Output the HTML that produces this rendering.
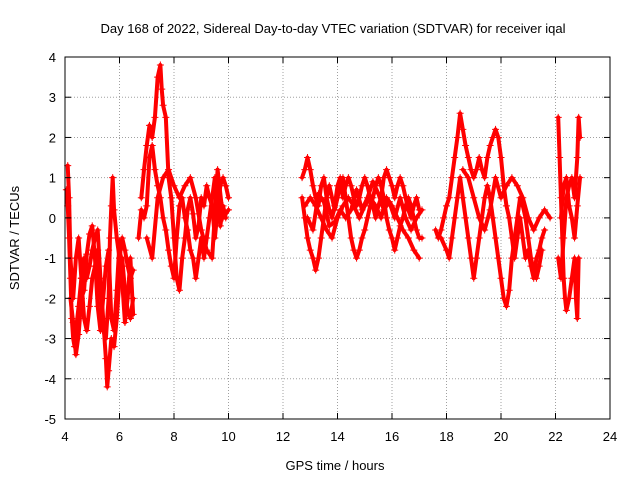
<!DOCTYPE html>
<html><head><meta charset="utf-8"><style>
body{margin:0;background:#fff;}
svg text{font-family:"Liberation Sans",sans-serif;font-size:13px;fill:#000;}
</style></head><body>
<svg id="chart" width="640" height="480">
<text x="333" y="33" text-anchor="middle">Day 168 of 2022, Sidereal Day-to-day VTEC variation (SDTVAR) for receiver iqal</text>
<text x="335" y="470" text-anchor="middle">GPS time / hours</text>
<text x="19" y="238" text-anchor="middle" transform="rotate(-90 19 238)">SDTVAR / TECUs</text>
<g id="grid"></g><g id="marks"></g><g id="axes"></g>
</svg>
<script>
const xTicks=[4,6,8,10,12,14,16,18,20,22,24];
const yTicks=[-5,-4,-3,-2,-1,0,1,2,3,4];
const trackA=[[4.05,0.7],[4.1,0.3],[4.15,-0.5],[4.2,-1.5],[4.25,-2.5],[4.3,-3],[4.35,-3.2],[4.4,-2.8],[4.5,-2.2],[4.6,-1.5],[4.7,-1],[4.8,-1.5],[4.9,-1.2],[5.0,-0.8],[5.1,-0.5],[5.2,-0.3],[5.3,-1.5],[5.4,-2.5],[5.5,-3.5],[5.55,-4.2],[5.6,-3.8],[5.7,-3],[5.8,-3.2],[5.9,-2.5],[6.0,-1.5],[6.1,-1],[6.2,-1.8],[6.3,-2.3],[6.4,-2.5],[6.5,-2.0]];
const trackB=[[4.1,1.3],[4.15,0.5],[4.2,-1],[4.3,-2],[4.4,-1],[4.5,-0.5],[4.6,-1.5],[4.7,-2.5],[4.8,-2.8],[4.9,-2.2],[5.0,-1.5],[5.1,-1.2],[5.2,-0.8],[5.3,-1.8],[5.4,-2.8],[5.5,-3.0],[5.6,-2.0],[5.65,-0.5],[5.7,0.3],[5.75,1.0],[5.8,0.2],[5.9,-0.5],[6.0,-1.0],[6.1,-0.5],[6.2,-0.8],[6.3,-1.2],[6.4,-1.5],[6.5,-1.3]];
const trackA2=[[4.2,-2.0],[4.3,-2.6],[4.4,-3.4],[4.5,-2.9],[4.6,-2.0],[4.7,-1.8],[4.8,-0.9],[4.9,-0.4],[5.0,-0.2],[5.1,-1.0],[5.2,-2.2],[5.3,-2.8],[5.4,-2.0],[5.5,-1.2],[5.6,-0.8],[5.7,-2.5],[5.8,-2.8],[5.9,-1.8],[6.0,-0.6],[6.1,-1.6],[6.2,-2.6],[6.3,-2.0],[6.4,-1.0],[6.5,-2.4]];
const trackC=[[6.8,0.5],[6.9,1.2],[7.0,1.8],[7.1,2.3],[7.2,2.0],[7.3,2.5],[7.4,3.5],[7.5,3.8],[7.55,3.2],[7.6,2.8],[7.7,2.5],[7.8,1.0],[7.9,0.5],[8.0,-0.5],[8.1,-1.5],[8.2,-1.8],[8.3,-1.0],[8.4,-0.5],[8.5,0.2],[8.6,0.5],[8.7,0.1],[8.8,-0.5],[8.9,-0.2],[9.0,0.5],[9.1,0.3],[9.2,0.8],[9.3,0.5],[9.4,0.3],[9.5,-0.5],[9.6,0.2],[9.7,0.8],[9.8,1.0],[9.9,0.8],[10.0,0.5]];
const trackD=[[6.7,-0.5],[6.8,0.2],[6.9,0.0],[7.0,0.3],[7.1,1.5],[7.2,1.8],[7.3,1.2],[7.4,0.8],[7.5,0.5],[7.6,0.0],[7.7,-0.3],[7.8,-0.8],[7.9,-1.2],[8.0,-1.5],[8.1,-0.5],[8.2,0.3],[8.3,0.5],[8.4,0.0],[8.5,-0.3],[8.6,-0.8],[8.7,-1.0],[8.8,-1.5],[8.9,-1.0],[9.0,-0.5],[9.1,-1.0],[9.2,-0.5],[9.3,0.0],[9.4,0.5],[9.5,1.0],[9.6,0.5],[9.7,-0.2],[9.8,0.3],[9.9,0.0]];
const trackE=[[7.0,-0.5],[7.2,-1.0],[7.4,0.5],[7.6,1.0],[7.8,1.2],[8.0,0.8],[8.2,0.5],[8.4,0.8],[8.6,1.0],[8.8,0.5],[9.0,-0.3],[9.2,-0.8],[9.4,-1.0],[9.6,1.2],[9.8,0.0],[10.0,0.2]];
const trackF=[[12.7,0.5],[12.8,0.0],[12.9,-0.5],[13.0,-0.8],[13.1,-1.0],[13.2,-1.3],[13.3,-1.0],[13.4,-0.5],[13.5,0.0],[13.6,0.5],[13.7,0.8],[13.8,0.5],[13.9,0.2],[14.0,0.5],[14.1,0.8],[14.2,1.0],[14.3,0.5],[14.4,0.0],[14.5,-0.5],[14.6,-0.8],[14.7,-1.0],[14.8,-0.8],[14.9,-0.5],[15.0,-0.3],[15.1,0.0],[15.2,0.3],[15.3,0.5],[15.4,0.8],[15.5,1.0],[15.6,0.8],[15.7,0.5],[15.8,0.0],[15.9,-0.3],[16.0,-0.5],[16.1,-0.8],[16.2,-0.5],[16.3,-0.2],[16.4,0.0],[16.5,0.3],[16.6,0.5],[16.7,0.3],[16.8,0.0],[16.9,-0.3],[17.0,-0.5],[17.1,-0.5]];
const trackG=[[12.7,1.0],[12.8,1.2],[12.9,1.5],[13.0,1.2],[13.1,0.8],[13.2,0.5],[13.3,0.3],[13.4,0.8],[13.5,1.0],[13.6,0.5],[13.7,0.2],[13.8,0.0],[13.9,0.3],[14.0,0.8],[14.1,1.0],[14.2,0.5],[14.3,0.8],[14.4,1.0],[14.5,0.8],[14.6,0.5],[14.7,0.3],[14.8,0.5],[14.9,0.8],[15.0,1.0],[15.1,0.8],[15.2,0.5],[15.3,0.3],[15.4,0.0],[15.5,0.3],[15.6,0.5],[15.7,1.0],[15.8,1.2],[15.9,1.0],[16.0,0.8],[16.1,0.5],[16.2,0.8],[16.3,1.0],[16.4,0.8],[16.5,0.5],[16.6,0.2],[16.7,0.0],[16.8,0.3],[16.9,0.5],[17.0,0.2]];
const trackH=[[12.8,0.3],[13.0,0.5],[13.2,0.3],[13.4,0.0],[13.6,-0.3],[13.8,-0.5],[14.0,0.0],[14.2,0.3],[14.4,0.5],[14.6,0.3],[14.8,0.0],[15.0,0.3],[15.2,0.5],[15.4,0.3],[15.6,0.0],[15.8,0.5],[16.0,0.3],[16.2,0.0],[16.4,-0.3],[16.6,-0.5],[16.8,-0.8],[17.0,-1.0]];
const trackH2=[[12.9,0.0],[13.1,-0.3],[13.3,0.6],[13.5,0.4],[13.7,-0.2],[13.9,-0.1],[14.1,0.2],[14.3,0.0],[14.5,0.2],[14.7,0.7],[14.9,0.2],[15.1,0.5],[15.3,0.9],[15.5,0.6],[15.7,0.2],[15.9,0.4],[16.1,0.0],[16.3,0.5],[16.5,0.0],[16.7,-0.3],[16.9,0.0],[17.1,0.2]];
const trackI=[[17.6,-0.3],[17.7,-0.5],[17.8,-0.3],[17.9,0.0],[18.0,0.3],[18.1,0.5],[18.2,1.0],[18.3,1.5],[18.4,2.0],[18.5,2.6],[18.6,2.2],[18.7,1.8],[18.8,1.5],[18.9,1.2],[19.0,1.0],[19.1,1.2],[19.2,1.5],[19.3,1.2],[19.4,1.0],[19.5,1.5],[19.6,1.8],[19.7,2.0],[19.8,2.2],[19.9,2.0],[20.0,1.5],[20.1,0.8],[20.2,0.3],[20.3,0.0],[20.4,-0.5],[20.5,-1.0],[20.6,-0.5],[20.7,0.0],[20.8,-0.5],[20.9,-1.0],[21.0,-0.8],[21.1,-1.2],[21.2,-1.5],[21.3,-1.0],[21.4,-0.8],[21.5,-0.5],[21.6,-0.3]];
const trackJ=[[17.8,-0.5],[18.0,-0.8],[18.1,-1.0],[18.2,-0.5],[18.3,0.0],[18.4,0.5],[18.5,1.0],[18.6,0.5],[18.7,0.0],[18.8,-0.5],[18.9,-1.0],[19.0,-1.5],[19.1,-1.0],[19.2,-0.5],[19.3,0.0],[19.4,0.5],[19.5,0.8],[19.6,0.5],[19.7,0.0],[19.8,-0.5],[19.9,-1.0],[20.0,-1.5],[20.1,-2.0],[20.2,-2.2],[20.3,-1.8],[20.4,-1.0],[20.5,-0.5],[20.6,0.0],[20.7,0.5],[20.8,0.3],[20.9,0.0],[21.0,-0.5],[21.1,-1.0],[21.2,-1.3],[21.3,-1.5],[21.4,-1.2],[21.5,-0.8]];
const trackK=[[18.6,1.2],[18.8,1.0],[19.0,0.5],[19.2,0.0],[19.4,-0.3],[19.6,0.2],[19.8,1.0],[20.0,0.5],[20.2,0.8],[20.4,1.0],[20.6,0.8],[20.8,0.5],[21.0,0.0],[21.2,-0.3],[21.4,0.0],[21.6,0.2],[21.8,0.0]];
const trackL=[[22.1,2.5],[22.15,1.5],[22.2,0.5],[22.25,-0.5],[22.3,-1.5],[22.35,-2.0],[22.4,-2.3],[22.5,-2.0],[22.6,-1.5],[22.7,-1.0],[22.75,-2.0],[22.8,-2.5],[22.85,-1.0]];
const trackM=[[22.1,-1.0],[22.2,-1.5],[22.3,-0.5],[22.4,0.5],[22.5,0.8],[22.6,1.0],[22.7,0.5],[22.8,1.5],[22.85,2.5],[22.9,2.0]];
const trackN=[[22.2,0.0],[22.3,0.8],[22.4,1.0],[22.5,0.3],[22.6,0.0],[22.7,-0.5],[22.8,0.3],[22.9,1.0]];
const tracks=[trackA,trackB,trackA2,trackC,trackD,trackE,trackF,trackG,trackH,trackH2,trackI,trackJ,trackK,trackL,trackM,trackN];

const L=65,R=610,T=57,B=419;
const xS=t=>L+(t-4)/(24-4)*(R-L);
const yS=v=>B-(v+5)/(4+5)*(B-T);
const NS="http://www.w3.org/2000/svg";
function mk(tag,attrs,parent){const e=document.createElementNS(NS,tag);for(const k in attrs)e.setAttribute(k,attrs[k]);parent.appendChild(e);return e;}
const grid=document.getElementById('grid'),axes=document.getElementById('axes'),marks=document.getElementById('marks');
xTicks.forEach(t=>{const x=xS(t);
 if(t>4&&t<24){const g=mk('line',{x1:x,x2:x,y1:T,y2:B,stroke:'#a0a0a0','stroke-dasharray':'1,2'},grid);
 
 }
 mk('line',{x1:x,x2:x,y1:B,y2:B-6,stroke:'#000'},axes);mk('line',{x1:x,x2:x,y1:T,y2:T+6,stroke:'#000'},axes);
 const lb=mk('text',{x:x,y:B+22,'text-anchor':'middle'},axes);lb.textContent=t;
 
 });
yTicks.forEach(v=>{const y=yS(v);
 if(v>-5&&v<4){const g=mk('line',{x1:L,x2:R,y1:y,y2:y,stroke:'#a0a0a0','stroke-dasharray':'1,2'},grid);
 
 }
 mk('line',{x1:L,x2:L+6,y1:y,y2:y,stroke:'#000'},axes);mk('line',{x1:R,x2:R-6,y1:y,y2:y,stroke:'#000'},axes);
 const lb=mk('text',{x:L-9,y:y+5,'text-anchor':'end'},axes);lb.textContent=v;
 
 });
const fr=mk('rect',{x:L,y:T,width:R-L,height:B-T,fill:'none',stroke:'#000'},axes);


tracks.forEach(tr=>{
 const pl=mk('polyline',{points:tr.map(p=>xS(p[0])+','+yS(p[1])).join(' '),fill:'none',stroke:'#f00','stroke-width':4,'stroke-linejoin':'round','stroke-linecap':'round'},marks);
 
 
 tr.forEach(p=>{const x=xS(p[0]),y=yS(p[1]);
 const m=mk('path',{d:`M${x-3.5},${y}H${x+3.5}M${x},${y-3.5}V${y+3.5}`,stroke:'#f00','stroke-width':1},marks);
 
 });});
</script>
</body></html>
